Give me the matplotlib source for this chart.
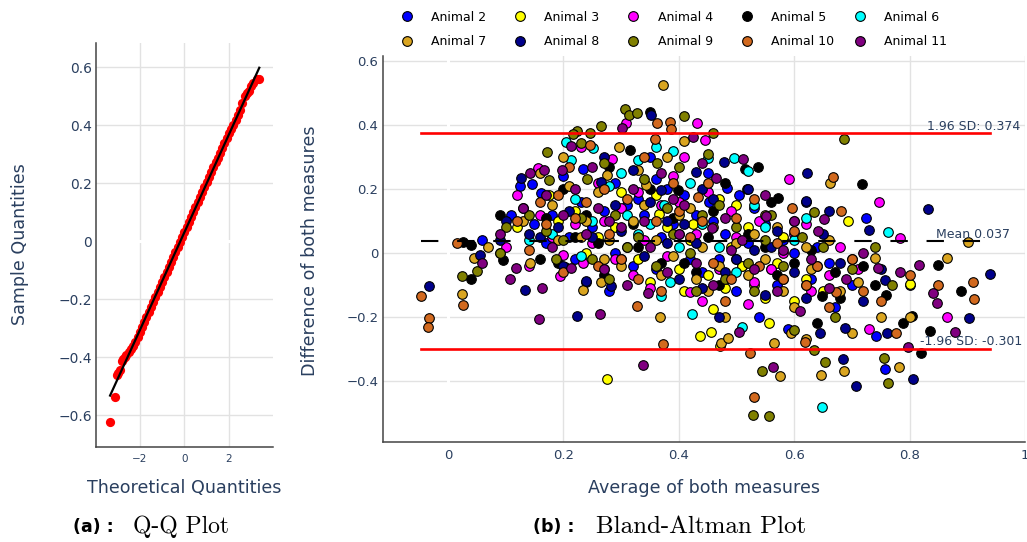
import numpy as np
import matplotlib
matplotlib.use('Agg')
import matplotlib.pyplot as plt
from matplotlib.lines import Line2D

plt.rcParams['lines.scale_dashes'] = False

# ---- Q-Q plot data ----
qq_theoretical = [-3.33, -3.10, -3.03, -2.97, -2.90, -2.81, -2.75, -2.68, -2.60, -2.50,
                  -2.40, -2.30, -2.20, -2.10, -2.00, -1.9, -1.8, -1.7, -1.6, -1.5,
                  -1.4, -1.3, -1.2, -1.1, -1.0, -0.9, -0.8, -0.7, -0.6, -0.5,
                  -0.4, -0.3, -0.2, -0.1, 0.0, 0.1, 0.2, 0.3, 0.4, 0.5,
                  0.6, 0.7, 0.8, 0.9, 1.0, 1.1, 1.2, 1.3, 1.4, 1.5,
                  1.6, 1.7, 1.8, 1.9, 2.0, 2.1, 2.2, 2.3, 2.4, 2.5,
                  2.6, 2.7, 2.8, 2.9, 3.0, 3.1, 3.25, 3.36]
qq_sample = [-0.622, -0.538, -0.462, -0.455, -0.445, -0.412, -0.405, -0.398, -0.392, -0.380,
             -0.372, -0.360, -0.346, -0.328, -0.312, -0.296, -0.279, -0.262, -0.244, -0.228,
             -0.210, -0.192, -0.174, -0.158, -0.140, -0.122, -0.105, -0.088, -0.070, -0.053,
             -0.036, -0.019, -0.001, 0.016, 0.033, 0.050, 0.067, 0.084, 0.101, 0.118,
             0.136, 0.153, 0.170, 0.187, 0.204, 0.221, 0.238, 0.255, 0.272, 0.289,
             0.306, 0.323, 0.340, 0.356, 0.372, 0.387, 0.401, 0.418, 0.436, 0.453,
             0.476, 0.500, 0.512, 0.520, 0.535, 0.545, 0.559, 0.559]

# ---- Bland-Altman data (average, difference) per animal ----
a2_avg = [0.234, 0.161, 0.484, 0.505, 0.453, 0.725, 0.59, 0.742, 0.758, 0.145, 0.125, 0.27, 0.31, 0.33, 0.36, 0.4, 0.43,
          0.47, 0.52, 0.55, 0.6, 0.62, 0.66, 0.7, 0.21, 0.18, 0.09, 0.06, 0.24, 0.28, 0.35, 0.39, 0.44, 0.5, 0.56,
          0.64, 0.8, 0.2, 0.38, 0.26, 0.32, 0.46, 0.53, 0.67, 0.58, 0.15, 0.34, 0.42, 0.29, 0.23,
          0.17, 0.25, 0.29, 0.37, 0.41, 0.48, 0.51, 0.57, 0.63, 0.22, 0.31, 0.45, 0.36, 0.54, 0.11]
a2_diff = [0.262, 0.188, 0.204, 0.181, 0.16, 0.11, -0.239, -0.258, -0.364, 0.215, 0.21, 0.13, 0.02, 0.17, -0.05, 0.06,
           0.12, -0.02, 0.03, 0.09, 0.0, 0.16, -0.03, -0.1, 0.05, 0.12, 0.0, 0.04, -0.09, -0.12, 0.3, 0.09, -0.06,
           -0.12, -0.05, 0.02, -0.1, 0.24, 0.2, 0.04, -0.04, 0.1, 0.14, -0.17, 0.04, 0.09, 0.12, -0.02, 0.22, 0.16,
           0.03, 0.08, 0.0, 0.05, 0.18, 0.06, -0.04, -0.1, -0.08, -0.02, 0.15, 0.25, 0.23, -0.2, 0.12]

a3_avg = [0.275, 0.437, 0.456, 0.46, 0.557, 0.366, 0.694, 0.801, 0.439, 0.425, 0.175, 0.472, 0.5, 0.53, 0.49, 0.45,
          0.58, 0.26, 0.33, 0.38, 0.41, 0.52, 0.62, 0.22, 0.3, 0.47, 0.55, 0.35, 0.6, 0.12,
          0.24, 0.29, 0.36, 0.42, 0.51, 0.57, 0.65, 0.19, 0.4, 0.48]
a3_diff = [-0.394, -0.261, -0.248, -0.175, -0.22, 0.122, 0.099, -0.097, 0.1, 0.09, 0.18, -0.29, 0.15, -0.1, 0.02,
           -0.07, 0.05, 0.05, -0.02, 0.08, -0.12, 0.08, -0.08, 0.13, 0.19, 0.17, -0.14, -0.09, -0.15, 0.08,
           0.0, 0.08, 0.18, 0.04, -0.04, -0.03, -0.12, 0.1, -0.05, -0.11]

a4_avg = [0.432, 0.445, 0.309, 0.285, 0.591, 0.747, 0.783, 0.729, 0.865, 0.119, 0.156, 0.194, 0.42, 0.35, 0.32, 0.235,
          0.2, 0.33, 0.39, 0.41, 0.37, 0.5, 0.54, 0.58, 0.63, 0.68, 0.47, 0.27, 0.18, 0.1, 0.23, 0.4, 0.45, 0.56,
          0.62, 0.29, 0.26, 0.52, 0.71, 0.14,
          0.22, 0.3, 0.34, 0.43, 0.49, 0.53, 0.6, 0.25, 0.38, 0.16, 0.44, 0.66]
a4_diff = [0.405, 0.353, 0.407, 0.293, 0.232, 0.159, 0.048, -0.238, -0.201, 0.181, 0.265, -0.071, -0.123, -0.11,
           -0.07, -0.03, -0.005, 0.19, 0.24, 0.3, 0.15, 0.05, 0.1, 0.0, -0.12, 0.02, -0.05, 0.1, 0.05, 0.02, 0.33,
           0.16, 0.19, -0.05, 0.09, -0.02, 0.22, -0.16, -0.05, -0.04,
           0.09, 0.14, 0.04, 0.06, 0.13, -0.09, 0.06, 0.03, -0.01, 0.12, -0.15, -0.07]

a5_avg = [0.351, 0.315, 0.515, 0.538, 0.572, 0.519, 0.718, 0.398, 0.027, 0.04, 0.04, 0.096, 0.649, 0.82, 0.835, 0.889,
          0.85, 0.804, 0.788, 0.76, 0.74, 0.7, 0.72, 0.67, 0.6, 0.55, 0.5, 0.45, 0.41, 0.37, 0.33, 0.3, 0.26, 0.22,
          0.17, 0.13, 0.09, 0.2, 0.28, 0.48, 0.6, 0.64, 0.46, 0.16,
          0.24, 0.32, 0.35, 0.39, 0.43, 0.52, 0.57, 0.63, 0.68, 0.19, 0.27, 0.47, 0.56]
a5_diff = [0.442, 0.322, 0.262, 0.27, 0.171, 0.199, 0.216, 0.197, 0.035, 0.025, -0.082, -0.022, -0.133, -0.313,
           -0.244, -0.119, -0.037, -0.196, -0.218, -0.13, -0.1, -0.02, -0.04, -0.06, -0.03, 0.02, -0.02, 0.05, -0.03,
           -0.03, 0.02, -0.02, 0.03, 0.05, 0.11, 0.14, 0.12, 0.2, 0.27, 0.22, 0.1, -0.22, 0.13, -0.02,
           0.12, 0.09, 0.2, 0.11, -0.06, 0.06, -0.07, 0.01, -0.14, -0.03, -0.07, -0.1, 0.16]

a6_avg = [0.204, 0.252, 0.213, 0.45, 0.496, 0.52, 0.762, 0.649, 0.64, 0.51, 0.423, 0.37, 0.385, 0.203, 0.374, 0.3,
          0.33, 0.36, 0.18, 0.25, 0.31, 0.42, 0.47, 0.55, 0.58, 0.14, 0.27, 0.33, 0.53, 0.6,
          0.22, 0.28, 0.35, 0.4, 0.44, 0.5, 0.23, 0.62, 0.39]
a6_diff = [0.348, 0.327, 0.29, 0.297, 0.296, 0.255, 0.064, -0.48, -0.041, -0.232, -0.192, -0.136, -0.09, -0.043,
           0.15, 0.25, 0.29, 0.33, 0.06, 0.1, 0.12, 0.22, 0.02, 0.08, -0.08, 0.04, -0.05, 0.06, 0.15, 0.04,
           0.17, 0.21, 0.09, 0.02, 0.09, -0.06, -0.01, 0.11, 0.32]

a7_avg = [0.373, 0.2, 0.275, 0.297, 0.344, 0.662, 0.901, 0.045, 0.025, 0.142, 0.266, 0.235, 0.368, 0.576, 0.646,
          0.687, 0.781, 0.474, 0.485, 0.566, 0.595, 0.74, 0.865, 0.6, 0.52, 0.48, 0.43, 0.4, 0.41, 0.32, 0.23, 0.18,
          0.13, 0.07, 0.16, 0.26, 0.36, 0.46, 0.55, 0.62, 0.68, 0.7, 0.75, 0.58, 0.5, 0.45, 0.39, 0.3, 0.28, 0.34,
          0.62, 0.8, 0.55,
          0.21, 0.24, 0.27, 0.33, 0.37, 0.42, 0.44, 0.47, 0.53, 0.57, 0.63, 0.66, 0.71, 0.19, 0.38]
a7_diff = [0.525, 0.301, 0.244, 0.33, 0.213, 0.218, 0.035, -0.017, -0.129, -0.032, -0.09, -0.116, -0.199, -0.384,
           -0.381, -0.368, -0.355, -0.28, -0.265, -0.28, -0.251, -0.017, -0.017, -0.17, -0.07, -0.2, -0.08, 0.12,
           0.35, 0.1, 0.05, 0.15, 0.1, 0.02, 0.25, 0.19, 0.04, 0.08, 0.12, 0.02, -0.12, -0.25, -0.2, -0.12, 0.03,
           -0.12, -0.01, -0.04, 0.04, 0.15, -0.27, -0.2, -0.02,
           0.21, 0.1, -0.02, 0.26, -0.07, 0.14, 0.02, -0.04, 0.06, 0.08, -0.05, 0.04, -0.09, 0.04, 0.3]

a8_avg = [0.352, 0.127, 0.265, 0.37, 0.479, 0.43, 0.622, 0.832, 0.729, 0.621, -0.033, 0.133, 0.224, 0.24, 0.282,
          0.469, 0.645, 0.688, 0.684, 0.707, 0.806, 0.761, 0.903, 0.939, 0.758, 0.056, 0.1, 0.16, 0.21, 0.3, 0.34,
          0.38, 0.43, 0.48, 0.53, 0.57, 0.6, 0.65, 0.52, 0.44, 0.27, 0.32, 0.19, 0.4, 0.55, 0.68, 0.72, 0.09,
          0.2, 0.25, 0.29, 0.35, 0.41, 0.46, 0.5, 0.56, 0.62, 0.66, 0.75, 0.14, 0.38, 0.44]
a8_diff = [0.43, 0.233, 0.223, 0.197, 0.285, 0.254, 0.251, 0.136, 0.072, 0.163, -0.102, -0.116, -0.196, -0.088,
           -0.103, -0.201, -0.249, -0.234, -0.332, -0.416, -0.395, -0.251, -0.204, -0.066, -0.084, -0.006, 0.1,
           0.05, 0.13, 0.07, -0.01, 0.1, 0.03, -0.06, 0.01, 0.07, -0.06, 0.06, 0.2, 0.2, 0.3, 0.26, 0.08, -0.08,
           -0.13, -0.03, -0.15, 0.04,
           -0.04, 0.05, 0.15, 0.16, 0.09, 0.17, -0.02, 0.02, -0.14, 0.13, -0.05, 0.06, 0.03, -0.11]

a9_avg = [0.307, 0.314, 0.327, 0.409, 0.265, 0.224, 0.216, 0.246, 0.231, 0.172, 0.241, 0.175, 0.363, 0.459, 0.687,
          0.45, 0.635, 0.613, 0.024, 0.051, 0.187, 0.545, 0.529, 0.556, 0.653, 0.634, 0.755, 0.763, 0.6, 0.53, 0.48,
          0.5, 0.42, 0.38, 0.33, 0.29, 0.2, 0.14, 0.1, 0.25, 0.4, 0.56, 0.58, 0.7, 0.77, 0.36, 0.47, 0.09, 0.65,
          0.23, 0.27, 0.31, 0.34, 0.39, 0.44, 0.52, 0.55, 0.62, 0.67, 0.17, 0.28, 0.43, 0.74]
a9_diff = [0.45, 0.431, 0.437, 0.428, 0.397, 0.382, 0.372, 0.374, 0.343, 0.317, 0.232, 0.228, 0.282, 0.376, 0.355,
           0.31, 0.127, 0.051, -0.072, -0.055, -0.019, -0.368, -0.506, -0.511, -0.34, -0.303, -0.329, -0.405, -0.24,
           -0.12, -0.08, 0.08, 0.0, 0.14, 0.05, 0.12, 0.04, 0.12, 0.08, -0.02, 0.27, 0.12, -0.04, -0.05, -0.1,
           -0.04, 0.15, 0.0, 0.02,
           0.11, 0.28, 0.02, 0.23, 0.06, 0.12, -0.03, 0.04, -0.1, -0.2, 0.07, -0.08, -0.12, 0.02]

a10_avg = [0.362, 0.385, 0.386, 0.359, 0.247, 0.21, 0.19, 0.668, 0.681, 0.596, 0.433, -0.047, -0.032, -0.035, 0.016,
           0.027, 0.327, 0.372, 0.523, 0.53, 0.618, 0.672, 0.777, 0.912, 0.91, 0.3, 0.33, 0.12, 0.17, 0.24, 0.28,
           0.36, 0.42, 0.46, 0.5, 0.54, 0.57, 0.62, 0.66, 0.72, 0.8, 0.48, 0.39, 0.27, 0.14, 0.2, 0.44, 0.6, 0.7,
           0.22, 0.26, 0.31, 0.34, 0.4, 0.45, 0.49, 0.53, 0.58, 0.64, 0.75, 0.16, 0.37, 0.85]
a10_diff = [0.407, 0.41, 0.386, 0.356, 0.337, 0.27, 0.181, 0.237, 0.131, 0.142, 0.176, -0.133, -0.202, -0.23, 0.032,
            -0.163, -0.166, -0.284, -0.313, -0.45, -0.277, -0.123, -0.251, -0.144, -0.092, -0.02, -0.08, 0.1, 0.09,
            0.16, 0.06, 0.1, 0.05, -0.03, 0.11, -0.04, 0.03, -0.1, -0.17, -0.12, -0.07, -0.15, 0.22, 0.2, 0.01,
            -0.06, 0.1, 0.07, -0.02,
            0.11, -0.04, 0.17, 0.3, 0.13, 0.22, -0.08, 0.17, -0.08, -0.04, -0.15, 0.16, -0.12, -0.1]

a11_avg = [0.301, 0.214, 0.142, 0.166, 0.197, 0.512, 0.465, 0.424, 0.457, 0.552, 0.651, 0.641, 0.06, 0.107, 0.163,
           0.158, 0.118, 0.213, 0.263, 0.338, 0.347, 0.563, 0.504, 0.797, 0.879, 0.84, 0.847, 0.816, 0.746, 0.784,
           0.09, 0.13, 0.18, 0.22, 0.26, 0.3, 0.32, 0.35, 0.38, 0.41, 0.44, 0.49, 0.53, 0.57, 0.6, 0.63, 0.69, 0.27,
           0.4, 0.46, 0.55, 0.2,
           0.24, 0.28, 0.31, 0.34, 0.37, 0.43, 0.48, 0.51, 0.58, 0.61, 0.66, 0.72, 0.17, 0.25, 0.39]
a11_diff = [0.39, 0.334, 0.249, 0.259, 0.259, 0.293, 0.233, 0.363, 0.079, 0.116, 0.105, 0.069, -0.032, -0.081, -0.11,
            -0.207, -0.048, -0.048, -0.191, -0.349, -0.126, -0.357, -0.247, -0.295, -0.248, -0.124, -0.155, -0.037,
            -0.048, -0.06, 0.06, 0.14, 0.02, 0.2, 0.14, 0.08, 0.2, 0.02, -0.06, 0.15, 0.28, 0.01, -0.05, -0.12, 0.1,
            -0.02, -0.08, -0.05, 0.06, -0.1, 0.18, 0.12,
            0.06, 0.1, -0.1, 0.1, 0.25, -0.03, 0.11, 0.04, 0.01, -0.18, -0.11, 0.0, 0.18, 0.27, 0.17]

animal_names = ['Animal 2', 'Animal 3', 'Animal 4', 'Animal 5', 'Animal 6',
                'Animal 7', 'Animal 8', 'Animal 9', 'Animal 10', 'Animal 11']
animal_colors = ['#0000ff', '#ffff00', '#ff00ff', '#000000', '#00ffff',
                 '#daa520', '#00008b', '#808000', '#d2691e', '#800080']
animal_avg = [a2_avg, a3_avg, a4_avg, a5_avg, a6_avg, a7_avg, a8_avg, a9_avg, a10_avg, a11_avg]
animal_diff = [a2_diff, a3_diff, a4_diff, a5_diff, a6_diff, a7_diff, a8_diff, a9_diff, a10_diff, a11_diff]

mean_diff = 0.037
upper_loa = 0.374
lower_loa = -0.301

txt_col = '#2a3f5f'
grid_col = '#e2e2e2'


def style_axes(ax):
    for side in ['top', 'right']:
        ax.spines[side].set_visible(False)
    for side in ['left', 'bottom']:
        ax.spines[side].set_color('#444444')
        ax.spines[side].set_linewidth(1.1)
    ax.grid(True, color=grid_col, linewidth=1.0)
    ax.set_axisbelow(True)
    ax.tick_params(length=0, colors=txt_col)


fig = plt.figure(figsize=(10.27, 5.42), dpi=100)

# ---- (a) Q-Q plot ----
ax1 = fig.add_axes([0.0935, 0.1758, 0.172, 0.7449])
style_axes(ax1)
ax1.axhline(0, color='white', linewidth=2.2, zorder=1)
ax1.scatter(qq_theoretical, qq_sample, s=44, color='red', linewidths=0, zorder=3)
fit = np.polyfit(qq_theoretical, qq_sample, 1)
xs = np.array([min(qq_theoretical), max(qq_theoretical)])
ax1.plot(xs, np.polyval(fit, xs), color='black', linewidth=1.6, zorder=4)
ax1.set_xlim(-3.96, 3.96)
ax1.set_ylim(-0.708, 0.684)
ax1.set_xticks([-2, 0, 2])
ax1.set_yticks([-0.6, -0.4, -0.2, 0, 0.2, 0.4, 0.6])
ax1.set_yticklabels(['\u22120.6', '\u22120.4', '\u22120.2', '0', '0.2', '0.4', '0.6'])
ax1.tick_params(axis='x', labelsize=7.5, pad=5)
ax1.tick_params(axis='y', labelsize=10, pad=3)
fig.text(0.0195, 0.55, 'Sample Quantities', rotation=90, ha='center', va='center',
         fontsize=12.6, color=txt_col)
fig.text(0.179, 0.1, 'Theoretical Quantities', ha='center', va='center',
         fontsize=12.6, color=txt_col)

# ---- (b) Bland-Altman plot ----
ax2 = fig.add_axes([0.3726, 0.185, 0.6254, 0.7113])
style_axes(ax2)
ax2.axvline(0, color='white', linewidth=2.2, zorder=1)
handles = []
for name, col, xa, yd in zip(animal_names, animal_colors, animal_avg, animal_diff):
    ax2.scatter(xa, yd, s=48, color=col, edgecolors='black', linewidths=0.8, zorder=3)
    handles.append(Line2D([], [], marker='o', linestyle='', markersize=7, markerfacecolor=col,
                          markeredgecolor='black', markeredgewidth=0.8, label=name))

all_avg = np.concatenate([np.array(a) for a in animal_avg])
x0, x1 = all_avg.min(), all_avg.max()
ax2.plot([x0, x1], [upper_loa, upper_loa], color='red', linewidth=1.9, zorder=4)
ax2.plot([x0, x1], [lower_loa, lower_loa], color='red', linewidth=1.9, zorder=4)
ax2.plot([x0, x1], [mean_diff, mean_diff], color='black', linewidth=1.5, dashes=(12.5, 13.5), zorder=4)

ax2.text(0.992, upper_loa + 0.021, '1.96 SD: %.3f' % upper_loa, ha='right', va='center',
         fontsize=9, color=txt_col, zorder=5)
ax2.text(0.974, mean_diff + 0.022, 'Mean %.3f' % mean_diff, ha='right', va='center',
         fontsize=9, color=txt_col, zorder=5)
ax2.text(0.996, lower_loa + 0.024, '-1.96 SD: %.3f' % lower_loa, ha='right', va='center',
         fontsize=9, color=txt_col, zorder=5)

ax2.set_xlim(-0.113, 1.0)
ax2.set_ylim(-0.59, 0.615)
ax2.set_xticks([0, 0.2, 0.4, 0.6, 0.8, 1.0])
ax2.set_xticklabels(['0', '0.2', '0.4', '0.6', '0.8', '1'])
ax2.set_yticks([-0.4, -0.2, 0, 0.2, 0.4, 0.6])
ax2.set_yticklabels(['\u22120.4', '\u22120.2', '0', '0.2', '0.4', '0.6'])
ax2.tick_params(axis='x', labelsize=9.5, pad=5)
ax2.tick_params(axis='y', labelsize=9.5, pad=3)
fig.text(0.302, 0.538, 'Difference of both measures', rotation=90, ha='center', va='center',
         fontsize=12.6, color=txt_col)
fig.text(0.6855, 0.1, 'Average of both measures', ha='center', va='center',
         fontsize=12.6, color=txt_col)

# legend: five evenly spaced columns, two rows (row-major like the original)
for c in range(5):
    fig.legend(handles=[handles[c], handles[c + 5]], loc='upper left',
               bbox_to_anchor=(0.3899 + c * 0.11032, 0.9806), ncol=1,
               frameon=False, fontsize=9, handlelength=1.0, handletextpad=1.44,
               labelspacing=0.95, borderpad=0, borderaxespad=0)

# ---- captions ----
fig.text(0.0708, 0.028, '(a) :', ha='left', va='center', fontsize=12.5, fontweight='bold',
         color='black')
fig.text(0.1292, 0.028, 'Q-Q Plot', ha='left', va='center', fontsize=17, family='cmr10',
         color='black')
fig.text(0.5187, 0.028, '(b) :', ha='left', va='center', fontsize=12.5, fontweight='bold',
         color='black')
fig.text(0.5803, 0.028, 'Bland-Altman Plot', ha='left', va='center', fontsize=18, family='cmr10',
         color='black')

fig.savefig('out.png', dpi=100, facecolor='white')
